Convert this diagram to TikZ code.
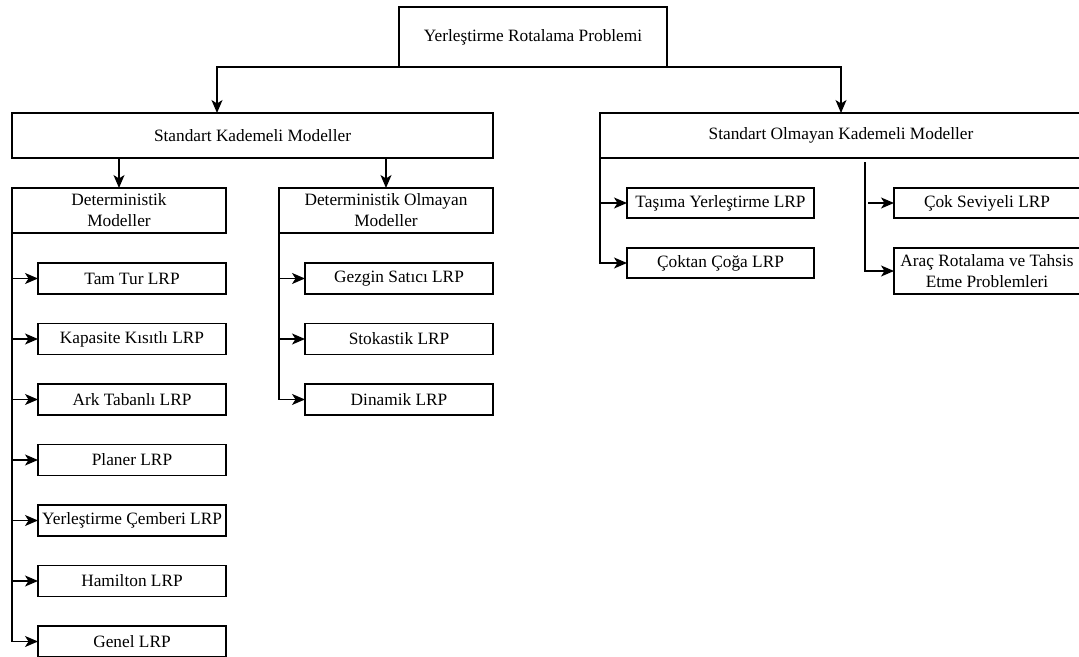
\documentclass[tikz,border=0pt]{standalone}
\usepackage{fontspec}
\setmainfont{Liberation Serif}
\usetikzlibrary{positioning,arrows.meta}

\begin{document}
\begin{tikzpicture}[x=1pt,y=-1pt,
      box/.style = {draw, line width=1.2pt, inner sep=0pt, outer sep=0pt,
         align=center, font=\fontsize{17.3}{21}\selectfont},
      leaf/.style = {box, minimum width=188pt, minimum height=31pt},
      arr/.style = {line width=1.3pt, -{Stealth[length=13pt,width=11pt,inset=3.5pt]}}
]
   \useasboundingbox (0,0) rectangle (1079,656);

   % root
   \node[box, minimum width=268pt, minimum height=60pt] (root) at (533,37)
      {Yerleştirme Rotalama Problemi};

   % standart / standart olmayan
   \node[box, minimum width=481pt, minimum height=45pt] (skm) at (252.5,135.5)
      {Standart Kademeli Modeller};
   \node[box, minimum width=482pt, minimum height=45pt] (som) at (841,135.5)
      {Standart Olmayan Kademeli Modeller};

   % deterministik / deterministik olmayan
   \node[box, minimum width=214pt, minimum height=45pt] (det)  at (119,210.5)
      {Deterministik\\Modeller};
   \node[box, minimum width=214pt, minimum height=45pt] (deto) at (386,210.5)
      {Deterministik Olmayan\\Modeller};

   % deterministik modeller
   \node[leaf]                     (tam) at (132,278.5) {Tam Tur LRP};
   \node[leaf, below=29.5pt of tam] (kap) {Kapasite Kısıtlı LRP};
   \node[leaf, below=29.5pt of kap] (ark) {Ark Tabanlı LRP};
   \node[leaf, below=29.5pt of ark] (pla) {Planer LRP};
   \node[leaf, below=29.5pt of pla] (cem) {Yerleştirme Çemberi LRP};
   \node[leaf, below=29.5pt of cem] (ham) {Hamilton LRP};
   \node[leaf, below=29.5pt of ham] (gen) {Genel LRP};

   % deterministik olmayan modeller
   \node[leaf]                     (gez) at (399,278.5) {Gezgin Satıcı LRP};
   \node[leaf, below=29.5pt of gez] (sto) {Stokastik LRP};
   \node[leaf, below=29.5pt of sto] (din) {Dinamik LRP};

   % standart olmayan modeller
   \node[box, minimum width=187pt, minimum height=30pt] (tas) at (720.5,203)
      {Taşıma Yerleştirme LRP};
   \node[box, minimum width=187pt, minimum height=30pt, below=30pt of tas] (cokt)
      {Çoktan Çoğa LRP};
   \node[box, minimum width=186pt, minimum height=30pt] (cok) at (987,203)
      {Çok Seviyeli LRP};
   \node[box, minimum width=186pt, minimum height=46pt, below=30pt of cok] (arac)
      {Araç Rotalama ve Tahsis\\Etme Problemleri};

   % connectors
   \draw[arr] (root.south west) -| ([xshift=-35.5pt]skm.north);
   \draw[arr] (root.south east) -| (som.north);
   \draw[arr] (skm.south -| det.north) -- (det.north);
   \draw[arr] (skm.south -| deto.north) -- (deto.north);

   \foreach \n in {tam,kap,ark,pla,cem,ham,gen}
      \draw[arr] (det.south west) |- (\n.west);
   \foreach \n in {gez,sto,din}
      \draw[arr] (deto.south west) |- (\n.west);
   \foreach \n in {tas,cokt}
      \draw[arr] (som.south west) |- (\n.west);

   \coordinate (sp)  at (865,162);
   \coordinate (spc) at (868,203);
   \draw[arr] (sp) |- (arac.west);
   \draw[arr] (spc) -- (cok.west);
\end{tikzpicture}
\end{document}
